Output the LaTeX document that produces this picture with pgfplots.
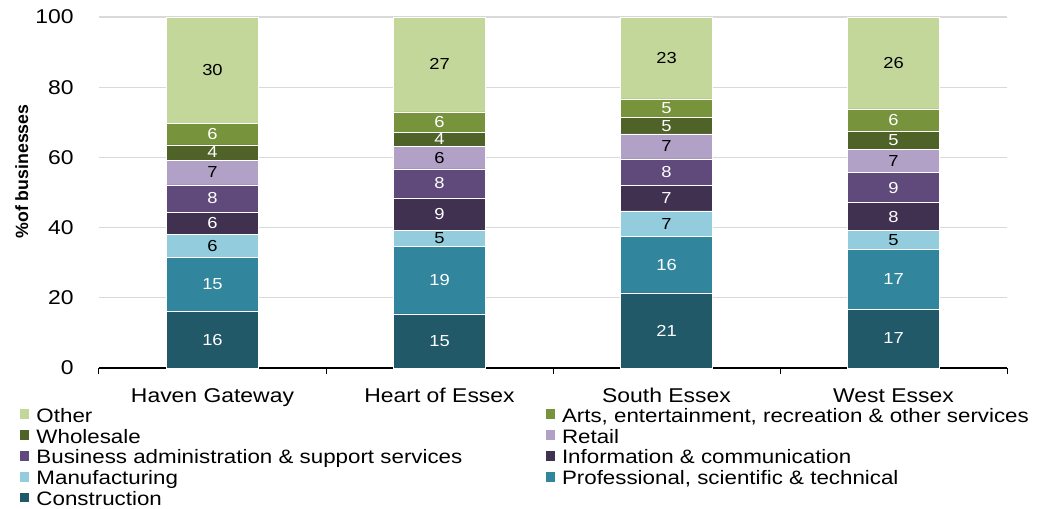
\documentclass[border=0pt]{standalone}
\usepackage{pgfplots}
\usepackage{pgfplotstable}
\pgfplotsset{compat=1.18}
\usepackage{fontspec}
\setmainfont{Liberation Sans}[FakeStretch=1.15]
\newfontfamily\ylabfont{Liberation Sans}

\definecolor{cOther}{HTML}{C4D79B}
\definecolor{cArts}{HTML}{77933C}
\definecolor{cWhole}{HTML}{4F6228}
\definecolor{cRetail}{HTML}{B2A1C7}
\definecolor{cBiz}{HTML}{604A7B}
\definecolor{cInfo}{HTML}{403151}
\definecolor{cManuf}{HTML}{93CDDD}
\definecolor{cProf}{HTML}{31859C}
\definecolor{cConstr}{HTML}{215968}
\definecolor{gridgrey}{HTML}{D9D9D9}

% share of businesses by sector, one row per area
\pgfplotstableread{
x Constr Prof Manuf Info Biz Retail Whole Arts Other
0 16.2 15.4 6.4 6.4 7.8 7.0 4.4 6.1 30.3
1 15.4 19.2 4.6 9.3 8.2 6.4 4.0 5.9 27.0
2 21.4 16.1 7.3 7.2 7.6 7.1 4.6 5.4 23.3
3 16.8 17.0 5.4 7.9 8.6 6.6 5.1 6.4 26.2
}\sectors

\pgfplotsset{
  base/.style={
    scale only axis, width=908bp, height=351bp,
    xmin=-0.5, xmax=3.5, ymin=0, ymax=100,
    at={(0,0)}, anchor=south west,
  },
  seg/.style={fill=#1, draw=white, line width=0.5bp},
  lab/.style={draw=none, mark=none, point meta=explicit,
    nodes near coords={\pgfmathprintnumber[fixed,precision=0,assume math mode=true]{\pgfplotspointmeta}},
    every node near coord/.style={anchor=center, inner sep=0pt, text=#1,
      font=\fontsize{16}{18}\selectfont}},
}

\begin{document}
\begin{tikzpicture}
\path[use as bounding box] (-99bp,-141bp) rectangle (938bp,368bp);

\begin{axis}[
  base,
  ybar stacked, bar width=0.405,
  axis x line*=bottom, axis y line*=left,
  y axis line style={draw=none},
  x axis line style={black, line width=1.3bp},
  ymajorgrids, grid style={gridgrey, line width=1.3bp},
  ytick={0,20,...,100},
  ytick style={draw=none},
  xtick={0,1,2,3},
  xticklabels={Haven Gateway, Heart of Essex, South Essex, West Essex},
  major x tick style={draw=none},
  minor xtick={-0.5,0.5,1.5,2.5,3.5},
  minor x tick style={black, line width=1bp},
  tick align=outside, minor tick length=6bp,
  /pgf/number format/assume math mode=true,
  ticklabel style={font=\fontsize{20}{22}\selectfont},
  yticklabel style={anchor=east, inner sep=0pt, xshift=-21bp},
  xticklabel style={anchor=north, inner sep=0pt, yshift=-16bp},
  ylabel={\ylabfont\bfseries\fontsize{17.8}{20}\selectfont \%of businesses},
  every axis y label/.style={at={(axis description cs:-0.085,0.56)}, rotate=90, anchor=center},
  legend columns=2,
  reverse legend,
  legend cell align=left,
  legend image code/.code={\fill[#1] (0bp,-1.5bp) rectangle (10bp,9bp);},
  legend style={at={(axis description cs:-0.0881,-0.1115)}, anchor=north west,
    draw=none, fill=none, inner sep=0pt, outer sep=0pt, row sep=0pt,
    font=\fontsize{19.5}{21}\selectfont,
    nodes={inner sep=0pt, text height=15bp, text depth=5.9bp},
    /tikz/every odd column/.style={column sep=7bp},
    /tikz/every even column/.style={column sep=8bp}},
]
\addplot[seg=cConstr] table[x=x, y=Constr] {\sectors};
\addlegendentry{\makebox[500bp][l]{Construction}}
\addplot[seg=cProf] table[x=x, y=Prof] {\sectors};
\addlegendentry{Professional, scientific \& technical}
\addplot[seg=cManuf] table[x=x, y=Manuf] {\sectors};
\addlegendentry{\makebox[500bp][l]{Manufacturing}}
\addplot[seg=cInfo] table[x=x, y=Info] {\sectors};
\addlegendentry{Information \& communication}
\addplot[seg=cBiz] table[x=x, y=Biz] {\sectors};
\addlegendentry{\makebox[500bp][l]{Business administration \& support services}}
\addplot[seg=cRetail] table[x=x, y=Retail] {\sectors};
\addlegendentry{Retail}
\addplot[seg=cWhole] table[x=x, y=Whole] {\sectors};
\addlegendentry{\makebox[500bp][l]{Wholesale}}
\addplot[seg=cArts] table[x=x, y=Arts] {\sectors};
\addlegendentry{Arts, entertainment, recreation \& other services}
\addplot[seg=cOther] table[x=x, y=Other] {\sectors};
\addlegendentry{\makebox[500bp][l]{Other}}
\end{axis}

% value labels, centred in each segment
\begin{axis}[base, hide axis]
\addplot[lab=white] table[x=x, meta=Constr, y expr=\thisrow{Constr}/2] {\sectors};
\addplot[lab=white] table[x=x, meta=Prof, y expr=\thisrow{Constr}+\thisrow{Prof}/2] {\sectors};
\addplot[lab=black] table[x=x, meta=Manuf, y expr=\thisrow{Constr}+\thisrow{Prof}+\thisrow{Manuf}/2] {\sectors};
\addplot[lab=white] table[x=x, meta=Info, y expr=\thisrow{Constr}+\thisrow{Prof}+\thisrow{Manuf}+\thisrow{Info}/2] {\sectors};
\addplot[lab=white] table[x=x, meta=Biz, y expr=\thisrow{Constr}+\thisrow{Prof}+\thisrow{Manuf}+\thisrow{Info}+\thisrow{Biz}/2] {\sectors};
\addplot[lab=black] table[x=x, meta=Retail, y expr=\thisrow{Constr}+\thisrow{Prof}+\thisrow{Manuf}+\thisrow{Info}+\thisrow{Biz}+\thisrow{Retail}/2] {\sectors};
\addplot[lab=white] table[x=x, meta=Whole, y expr=\thisrow{Constr}+\thisrow{Prof}+\thisrow{Manuf}+\thisrow{Info}+\thisrow{Biz}+\thisrow{Retail}+\thisrow{Whole}/2] {\sectors};
\addplot[lab=white] table[x=x, meta=Arts, y expr=\thisrow{Constr}+\thisrow{Prof}+\thisrow{Manuf}+\thisrow{Info}+\thisrow{Biz}+\thisrow{Retail}+\thisrow{Whole}+\thisrow{Arts}/2] {\sectors};
\addplot[lab=black] table[x=x, meta=Other, y expr=\thisrow{Constr}+\thisrow{Prof}+\thisrow{Manuf}+\thisrow{Info}+\thisrow{Biz}+\thisrow{Retail}+\thisrow{Whole}+\thisrow{Arts}+\thisrow{Other}/2] {\sectors};
\end{axis}
\end{tikzpicture}
\end{document}
